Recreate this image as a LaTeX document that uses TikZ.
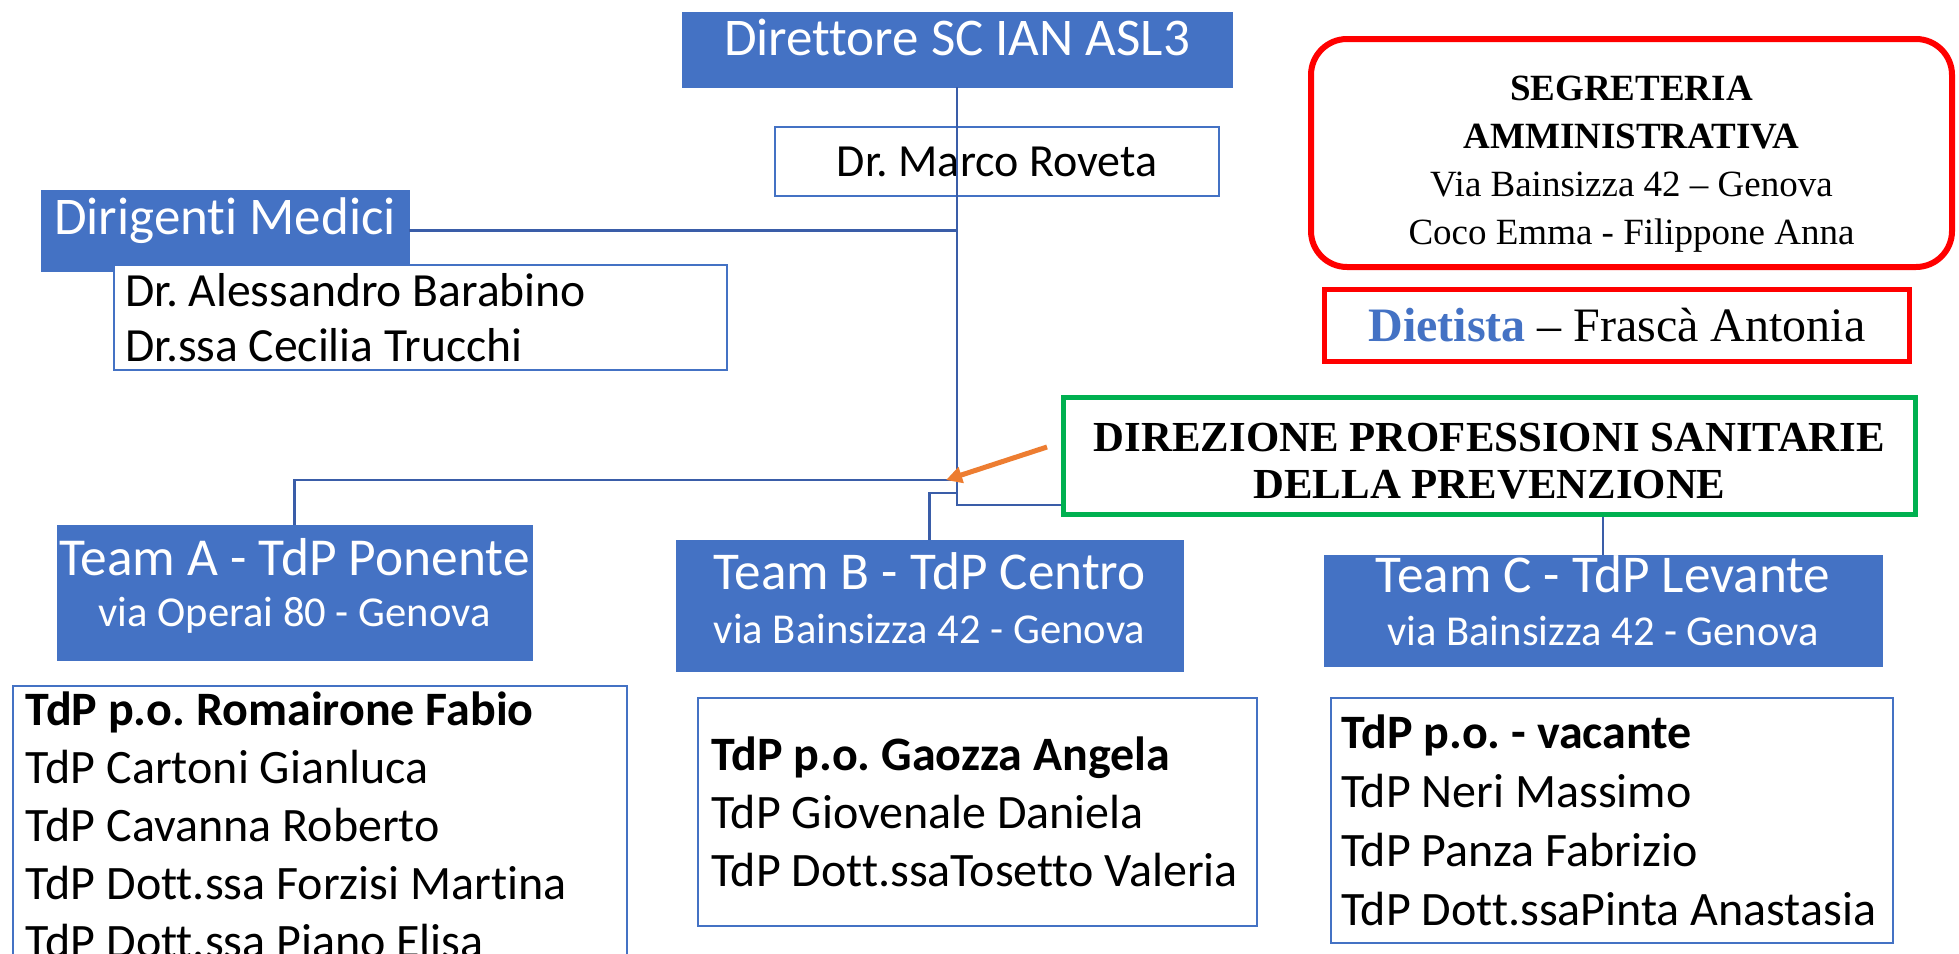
\documentclass[tikz,border=0pt]{standalone}
\usepackage{fontspec}
\setmainfont{Liberation Serif}
\newfontfamily\calibri[Ligatures={NoCommon}]{Carlito}
\usepackage{tikz}
\usetikzlibrary{arrows.meta}
\frenchspacing
\definecolor{hdblue}{HTML}{4472C4}
\definecolor{lnblue}{HTML}{3A5DA8}
\definecolor{orgred}{HTML}{FF0000}
\definecolor{orggreen}{HTML}{00B050}
\definecolor{orgorange}{HTML}{ED7D31}
\newcommand{\fsz}[2]{\fontsize{#1}{#2}\selectfont}
\tikzset{%
  head/.style     = {shape=rectangle, draw=hdblue, fill=hdblue,%
                     text=white, align=flush center, inner sep=0pt},%
  namebox/.style  = {shape=rectangle, draw=hdblue, fill=white,%
                     line width=0.8pt, align=flush left, inner ysep=0pt},%
  redbox/.style   = {shape=rectangle, draw=orgred, align=flush center},%
  link/.style     = {draw=lnblue, line width=1.1pt},%
  pointer/.style  = {draw=orgorange, line width=2.5pt,%
                     -{Triangle[length=8pt,width=8pt]}}%
}

\begin{document}
\begin{tikzpicture}[x=0.5pt, y=-0.5pt, every node/.style = {font=\calibri}]%
	\useasboundingbox (0,0) rectangle (1959,953);
	\clip (0,0) rectangle (1959,953);
	\fill[white] (0,0) rectangle (1959,953);
	% vertice
	\node[head, minimum width=275pt, minimum height=37.5pt, text depth=12.5pt,
		font=\calibri\fsz{26.5}{30}] (dir) at (957,49.5) {Direttore SC IAN ASL3};
	\node[namebox, minimum width=222pt, minimum height=34.5pt,
		font=\calibri\fsz{23}{27}] (rov) at (997,161.5) {Dr. Marco Roveta};
	\node[head, minimum width=184pt, minimum height=40.5pt, text depth=14pt,
		font=\calibri\fsz{26.5}{30}] (dm) at (225,230.5) {Dirigenti Medici};
	\node[namebox, minimum width=306.5pt, minimum height=52.5pt, text width=295.5pt,
		inner xsep=5.5pt, font=\calibri\fsz{23.8}{27.5}] (dmn) at (420.5,317.5)
		{Dr. Alessandro Barabino\\Dr.ssa Cecilia Trucchi};
	% segreteria e dietista
	\node[redbox, rounded corners=18pt, line width=3pt, inner sep=0pt, text width=320.5pt,
		text height=30.5pt, text depth=83.5pt, font=\fsz{18.5}{24}] (seg) at (1631.5,153)
		{\textbf{SEGRETERIA}\\\textbf{AMMINISTRATIVA}\\Via Bainsizza 42 – Genova\\Coco Emma - Filippone Anna};
	\node[redbox, line width=2.5pt, minimum width=292.5pt, minimum height=36pt,
		font=\fsz{24}{28}] (diet) at (1617,325.5)
		{\textcolor{hdblue}{\textbf{Dietista}} – Frascà Antonia};
	\node[shape=rectangle, draw=orggreen, line width=2.5pt, inner sep=0pt, text width=426pt,
		text height=27pt, text depth=31.5pt, align=flush center, font=\bfseries\fsz{21.4}{23.5}]
		(dps) at (1489.5,456) {DIREZIONE PROFESSIONI SANITARIE\\DELLA PREVENZIONE};
	% team
	\begin{scope}[every node/.append style = {head}]
		\node[text width=237.5pt, text height=25pt, text depth=42.5pt, font=\calibri\fsz{26.7}{25.5}]
			(ta) at (294.5,592.5) {\mbox{Team A - TdP Ponente}\\{\fsz{21.3}{25.5}via Operai 80 - Genova}};
		\node[text width=253.5pt, text height=24.5pt, text depth=41pt, font=\calibri\fsz{26.6}{27}]
			(tb) at (929.5,605.5) {\mbox{Team B - TdP Centro}\\{\fsz{21.3}{27}via Bainsizza 42 - Genova}};
		\node[text width=279pt, text height=18.5pt, text depth=37pt, font=\calibri\fsz{26.6}{26.5}]
			(tc) at (1603,610.5) {\mbox{Team C - TdP Levante}\\{\fsz{21.3}{26.5}via Bainsizza 42 - Genova}};
	\end{scope}
	\node[namebox, anchor=north west, text width=294pt, inner xsep=6.5pt, inner ysep=3pt,
		font=\calibri\fsz{24}{29}] (la) at (12,685)
		{\textbf{TdP p.o. Romairone Fabio}\\TdP Cartoni Gianluca\\TdP Cavanna Roberto\\TdP Dott.ssa Forzisi Martina\\TdP Dott.ssa Piano Elisa};
	\node[namebox, minimum width=279.5pt, minimum height=114pt, text width=266.5pt,
		inner xsep=6.5pt, font=\calibri\fsz{24}{29}] (lb) at (977.5,812)
		{\textbf{TdP p.o. Gaozza Angela}\\TdP Giovenale Daniela\\TdP Dott.ssaTosetto Valeria};
	\node[namebox, minimum width=281pt, minimum height=122.5pt, text width=271pt,
		inner xsep=5pt, font=\calibri\fsz{24}{29.5}] (lc) at (1612,820.5)
		{\textbf{TdP p.o. - vacante}\\TdP Neri Massimo\\TdP Panza Fabrizio\\TdP Dott.ssaPinta Anastasia};
	% collegamenti
	\coordinate (jA) at (957,480);
	\coordinate (jB) at (957,493);
	\coordinate (knee) at (957,505);
	\coordinate (tailO) at (1047,447);
	\coordinate (tipO) at (946,480);
	\draw[link] (dir.south) -- (knee) -- (knee -| dps.west);
	\draw[link] (dm.east) -- (dm.east -| dir.south);
	\draw[link] (ta.north) |- (jA);
	\draw[link] (tb.north) |- (jB);
	\draw[link] (tc.north) -- (tc.north |- dps.south);
	\draw[pointer] (tailO) -- (tipO);
\end{tikzpicture}
\end{document}
